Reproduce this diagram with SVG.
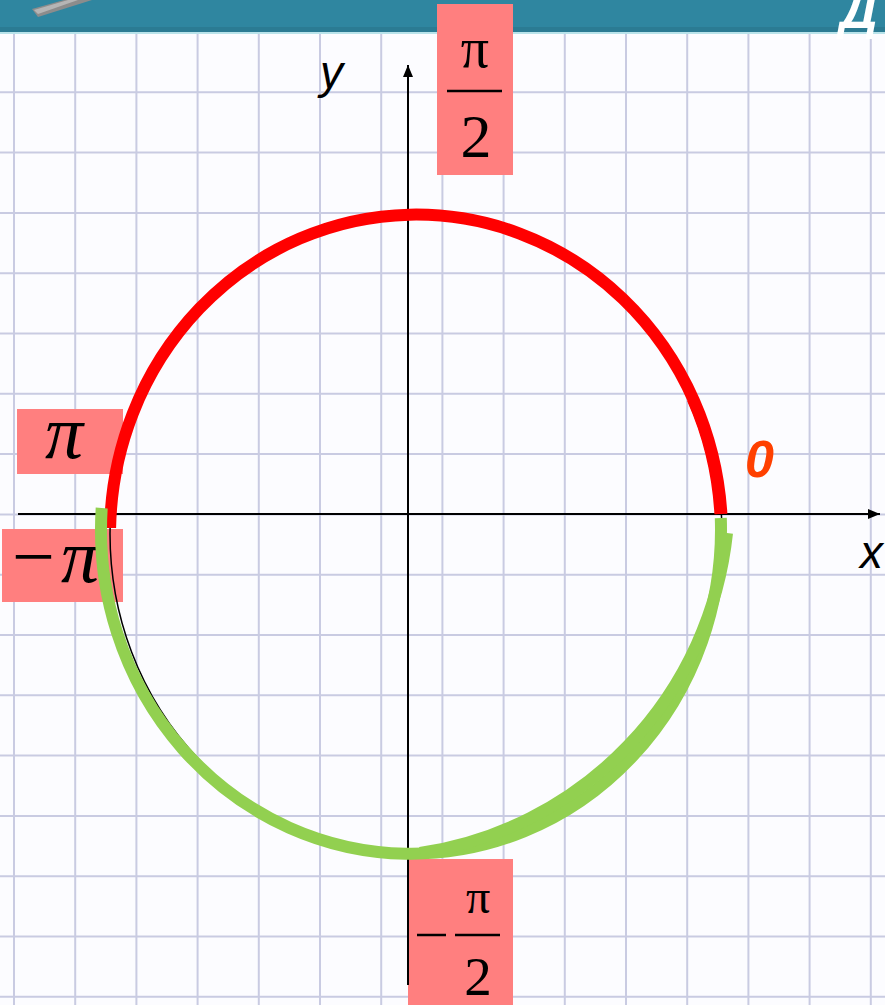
<svg xmlns="http://www.w3.org/2000/svg" width="885" height="1005" viewBox="0 0 885 1005">
  <style>
    .grid line { stroke: #c9cbe2; stroke-width: 2; }
    .box { fill: #ff7f7f; }
    .serif { font-family: "Liberation Serif", "Times New Roman", serif; fill: #000; }
    .it { font-style: italic; }
    .sans { font-family: "Liberation Sans", Arial, sans-serif; }
    .axis { stroke: #000; stroke-width: 2; fill: none; }
    .bar { stroke: #000; stroke-width: 2.5; }
  </style>
  <defs>
    <marker id="arrow" viewBox="0 0 12 10" refX="12" refY="5" markerWidth="12" markerHeight="10" markerUnits="userSpaceOnUse" orient="auto">
      <path d="M0 0 L12 5 L0 10 Z" fill="#000"/>
    </marker>
  </defs>

  <rect x="0" y="0" width="885" height="1005" fill="#fcfcff"/>

  <g id="grid" class="grid">
    <line x1="14" y1="32" x2="14" y2="1005"/>
    <line x1="75.2" y1="32" x2="75.2" y2="1005"/>
    <line x1="136.4" y1="32" x2="136.4" y2="1005"/>
    <line x1="197.6" y1="32" x2="197.6" y2="1005"/>
    <line x1="258.8" y1="32" x2="258.8" y2="1005"/>
    <line x1="320" y1="32" x2="320" y2="1005"/>
    <line x1="381.2" y1="32" x2="381.2" y2="1005"/>
    <line x1="442.4" y1="32" x2="442.4" y2="1005"/>
    <line x1="503.6" y1="32" x2="503.6" y2="1005"/>
    <line x1="564.8" y1="32" x2="564.8" y2="1005"/>
    <line x1="626" y1="32" x2="626" y2="1005"/>
    <line x1="687.2" y1="32" x2="687.2" y2="1005"/>
    <line x1="748.4" y1="32" x2="748.4" y2="1005"/>
    <line x1="809.6" y1="32" x2="809.6" y2="1005"/>
    <line x1="870.8" y1="32" x2="870.8" y2="1005"/>
    <line x1="0" y1="92.3" x2="885" y2="92.3"/>
    <line x1="0" y1="152.6" x2="885" y2="152.6"/>
    <line x1="0" y1="212.9" x2="885" y2="212.9"/>
    <line x1="0" y1="273.2" x2="885" y2="273.2"/>
    <line x1="0" y1="333.5" x2="885" y2="333.5"/>
    <line x1="0" y1="393.8" x2="885" y2="393.8"/>
    <line x1="0" y1="454.1" x2="885" y2="454.1"/>
    <line x1="0" y1="514.4" x2="885" y2="514.4"/>
    <line x1="0" y1="574.7" x2="885" y2="574.7"/>
    <line x1="0" y1="635" x2="885" y2="635"/>
    <line x1="0" y1="695.3" x2="885" y2="695.3"/>
    <line x1="0" y1="755.6" x2="885" y2="755.6"/>
    <line x1="0" y1="815.9" x2="885" y2="815.9"/>
    <line x1="0" y1="876.2" x2="885" y2="876.2"/>
    <line x1="0" y1="936.5" x2="885" y2="936.5"/>
    <line x1="0" y1="996.8" x2="885" y2="996.8"/>
  </g>

  <g id="banner">
    <rect x="0" y="0" width="885" height="32" fill="#2f86a0"/>
    <rect x="0" y="27" width="885" height="5" fill="#2b7b93"/>
    <line x1="0" y1="33" x2="885" y2="33" stroke="#b9e3ea" stroke-width="2"/>
    <polygon points="32,9 38,17 92,0 64,0" fill="#8c8c8c"/>
    <polygon points="34,10 38,14 78,0 68,0" fill="#b5b5b5"/>
    <text x="840" y="28" class="sans" font-size="52" font-weight="bold" font-style="italic" fill="#ffffff">Д</text>
  </g>

  <g id="label-pi-half">
    <rect class="box" x="437" y="4" width="76" height="171"/>
    <text x="475" y="67" class="serif" font-size="56" text-anchor="middle">π</text>
    <line class="bar" x1="447" y1="91" x2="502" y2="91"/>
    <text x="476" y="157" class="serif" font-size="62" text-anchor="middle">2</text>
  </g>

  <g id="label-pi">
    <rect class="box" x="17" y="409" width="106" height="65"/>
    <text x="64" y="458" class="serif it" font-size="76" text-anchor="middle">π</text>
  </g>

  <g id="label-minus-pi">
    <rect class="box" x="2" y="529" width="121" height="73"/>
    <text x="12" y="582" class="serif" font-size="76">−<tspan class="it" dx="6">π</tspan></text>
  </g>

  <g id="label-minus-pi-half">
    <rect class="box" x="408" y="859" width="105" height="146"/>
    <line class="bar" x1="417" y1="935" x2="446" y2="935"/>
    <text x="478" y="913" class="serif" font-size="48" text-anchor="middle">π</text>
    <line class="bar" x1="455" y1="935" x2="500" y2="935"/>
    <text x="478" y="995" class="serif" font-size="55" text-anchor="middle">2</text>
  </g>

  <g id="axes">
    <line class="axis" x1="18" y1="514" x2="880" y2="514" marker-end="url(#arrow)"/>
    <line class="axis" x1="408" y1="985" x2="408" y2="65" marker-end="url(#arrow)"/>
  </g>

  <g id="circle">
    <ellipse cx="416" cy="534" rx="306" ry="320" fill="none" stroke="#000" stroke-width="1.5"/>
  </g>

  <g id="arc-upper">
    <path d="M721.4 514 A306 320 0 0 0 110.1 528" fill="none" stroke="#ff0000" stroke-width="12"/>
    <path d="M717.4 514 A302 316 0 0 0 690 400" fill="none" stroke="#ff0000" stroke-width="6"/>
  </g>

  <g id="arc-lower">
    <path d="M101.7 508 A310 324 0 1 0 720.8 518" fill="none" stroke="#92d050" stroke-width="12"/>
    <path d="M420 853 A362 362 0 0 0 727 533" fill="none" stroke="#92d050" stroke-width="12"/>
  </g>

  <g id="labels">
    <text x="745" y="477" class="sans" font-size="52" font-weight="bold" font-style="italic" fill="#ff4000">0</text>
    <text x="860" y="568" class="sans" font-size="46" font-style="italic" fill="#000">x</text>
    <text x="320" y="88" class="sans" font-size="46" font-style="italic" fill="#000">y</text>
  </g>
</svg>
